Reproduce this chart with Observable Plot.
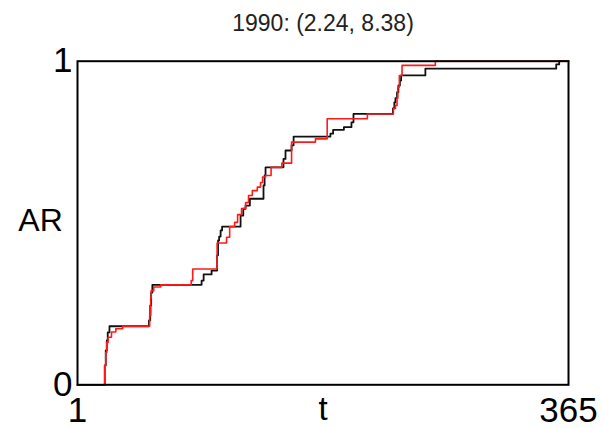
<!DOCTYPE html>
<html>
<head>
<meta charset="utf-8">
<script src="https://cdn.jsdelivr.net/npm/d3@7"></script>
<script src="https://cdn.jsdelivr.net/npm/@observablehq/plot@0.6"></script>
<style>
  html, body { margin: 0; padding: 0; background: white; }
</style>
</head>
<body>
<div id="chart"></div>
<script>
const title = "1990: (2.24, 8.38)";
const xLabel = "t";
const yLabel = "AR";
const xTicks = [1, 365];
const yTicks = [0, 1];

// black series (observed)
const blackT = [1, 21.2, 21.95, 22.7, 23.4, 24.7, 54.0, 54.9, 55.6, 56.5, 93.0, 94.5, 100.4,
  104.5, 105.2, 106.0, 107.1, 108.2, 121.9, 123.9, 125.6, 128.8, 138.9, 139.7, 140.4,
  153.7, 155.2, 159.7, 161.2, 188.5, 190.5, 198.5, 204.1, 205.6,
  234.8, 235.9, 236.7, 237.9, 238.9, 240.0, 240.9, 258.9, 355.9, 358.1, 365];
const blackAR = [0, 0.060, 0.106, 0.137, 0.162, 0.181, 0.199, 0.245, 0.285, 0.309, 0.322, 0.341, 0.353,
  0.400, 0.446, 0.458, 0.477, 0.489, 0.523, 0.544, 0.554, 0.575, 0.616, 0.647, 0.672,
  0.698, 0.724, 0.740, 0.767, 0.776, 0.788, 0.796, 0.811, 0.837,
  0.854, 0.873, 0.886, 0.904, 0.925, 0.940, 0.956, 0.977, 0.990, 1.0, 1.0];

// red series (model)
const redT = [1, 21.2, 21.95, 22.7, 23.7, 26.2, 29.4, 34.5, 54.5, 55.3, 55.6, 57.5, 62.7,
  85.3, 86.4, 104.5, 111.5, 113.8, 117.5, 119.7, 122.6, 125.6, 127.8, 130.6, 134.3, 136.7,
  138.2, 140.4, 144.5, 152.5, 159.7, 177.4, 186.1, 215.9,
  235.2, 236.7, 237.9, 238.5, 239.6, 241.6, 266.3, 365];
const redAR = [0, 0.060, 0.100, 0.131, 0.147, 0.163, 0.173, 0.181, 0.214, 0.267, 0.291, 0.302, 0.309,
  0.322, 0.358, 0.438, 0.456, 0.489, 0.502, 0.526, 0.545, 0.563, 0.585, 0.600, 0.611, 0.625,
  0.642, 0.647, 0.672, 0.685, 0.750, 0.760, 0.822, 0.837,
  0.854, 0.863, 0.886, 0.920, 0.956, 0.987, 1.0, 1.0];

const black = blackT.map((t, i) => ({t, ar: blackAR[i]}));
const red = redT.map((t, i) => ({t, ar: redAR[i]}));

const font = "'Liberation Sans', Arial, Helvetica, sans-serif";

const chart = Plot.plot({
  width: 603,
  height: 429,
  marginLeft: 77,
  marginRight: 35,
  marginTop: 60.7,
  marginBottom: 44.7,
  style: { fontFamily: font, background: "white", color: "black" },
  x: { domain: [1, 365] },
  y: { domain: [0, 1] },
  marks: [
    Plot.line(black, { x: "t", y: "ar", curve: "step-after", stroke: "#111", strokeWidth: 1.8 }),
    Plot.line(red, { x: "t", y: "ar", curve: "step-after", stroke: "#ff1a1a", strokeWidth: 1.6 }),
    Plot.frame({ stroke: "black", strokeWidth: 2 }),
    Plot.axisX({ ticks: xTicks, tickSize: 0, tickPadding: 12, fontSize: 35, label: null, tickFormat: d => String(d), fill: "black" }),
    Plot.axisY({ ticks: yTicks, tickSize: 0, tickPadding: 5, fontSize: 35, label: null, tickFormat: d => String(d), fill: "black" }),
    Plot.text([xLabel], { text: d => d, frameAnchor: "bottom", lineAnchor: "bottom", dy: 35, fontSize: 33, fill: "black" }),
    Plot.text([yLabel], { text: d => d, frameAnchor: "left", textAnchor: "middle", dx: -37, dy: -2, fontSize: 32, fill: "black" }),
    Plot.text([title], { text: d => d, frameAnchor: "top", lineAnchor: "bottom", dy: -30, fontSize: 23, fill: "#222" })
  ]
});
document.getElementById("chart").appendChild(chart);
</script>
</body>
</html>
